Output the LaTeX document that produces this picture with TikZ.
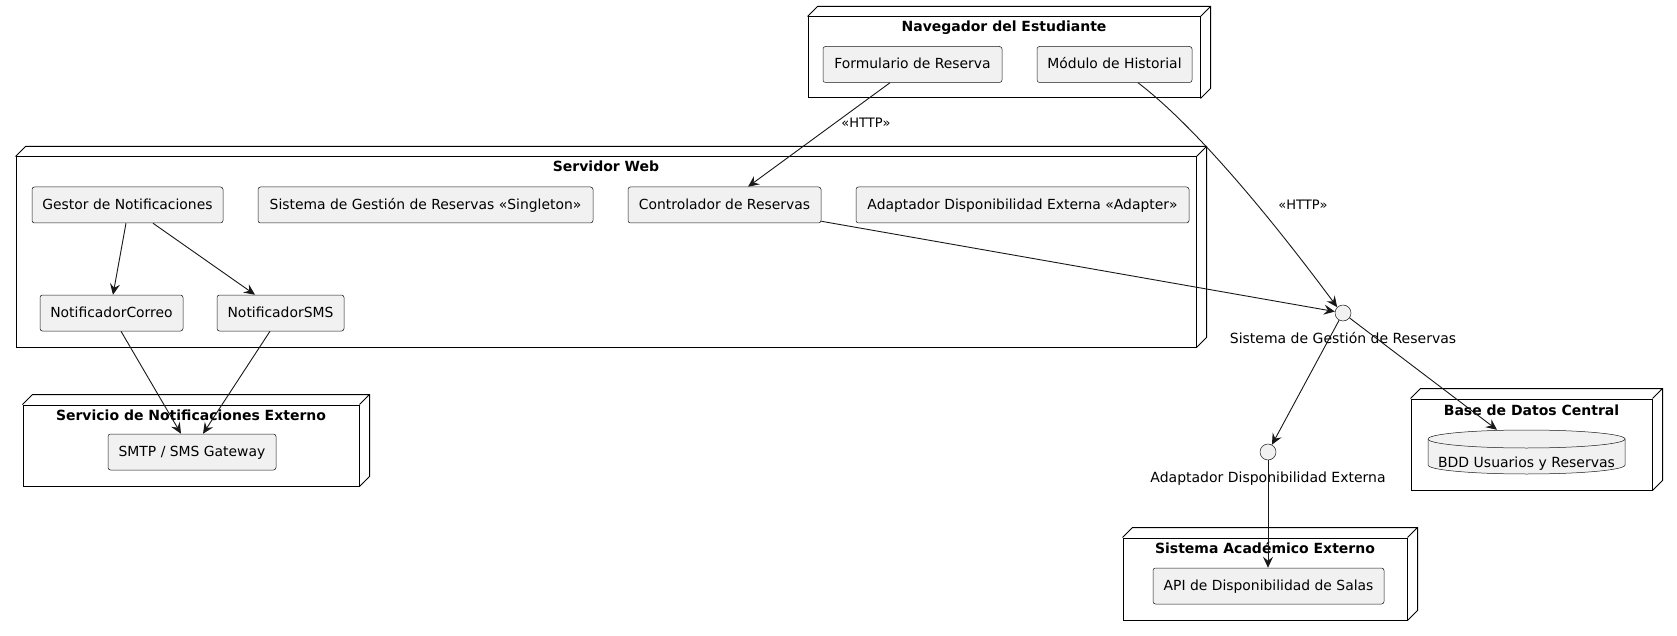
\documentclass[tikz,border=0pt]{standalone}
\usepackage{fontspec}
\setmainfont{DejaVu Sans}
\usetikzlibrary{arrows.meta,calc}
\definecolor{compfill}{HTML}{F1F1F1}
\definecolor{lncol}{HTML}{181818}
\newcommand\threedbox[1]{\draw[line width=1pt, line join=miter] (#1.north west) -- ++(10,-10) -- ($(#1.north east)+(10,-10)$) -- ($(#1.south east)+(10,-10)$) -- (#1.south east) (#1.north east) -- ++(10,-10);}
\begin{document}
\begin{tikzpicture}[x=1pt,y=-1pt,
 comp/.style={draw=lncol, fill=compfill, line width=0.5pt, rounded corners=2.5pt, minimum height=36pt, inner sep=0pt, text height=10.5pt, text depth=2pt, font=\fontsize{13.9}{16}\selectfont},
 frame/.style={draw=black, line width=1pt, inner sep=0pt},
 ttl/.style={font=\bfseries\fontsize{14}{16}\selectfont, inner sep=0pt, anchor=base},
 conn/.style={draw=lncol, line width=0.9pt, -{Stealth[length=11pt,width=10pt,inset=4pt]}},
 iface/.style={circle, draw=lncol, fill=compfill, line width=0.5pt, minimum size=16pt, inner sep=0pt},
 lbl/.style={font=\fontsize{14}{16}\selectfont, inner sep=0pt, anchor=base},
 elbl/.style={font=\fontsize{13}{15}\selectfont, inner sep=0pt, anchor=base}]
\useasboundingbox[fill=white] (0,0) rectangle (1677,636);

% frames
\node[frame, minimum width=392pt, minimum height=81pt] (nav) at (1004,57.5) {};
\threedbox{nav}
\node[frame, minimum width=1180pt, minimum height=190pt] (srv) at (606,252) {};
\threedbox{srv}
\node[frame, minimum width=336pt, minimum height=81pt] (notif) at (191,445.5) {};
\threedbox{notif}
\node[frame, minimum width=241pt, minimum height=91pt] (dbn) at (1531.5,444.5) {};
\threedbox{dbn}
\node[frame, minimum width=284pt, minimum height=82pt] (acad) at (1265,579) {};
\threedbox{acad}

% titles
\node[ttl] (navt) at (1004,32) {Navegador del Estudiante};
\node[ttl] (srvt) at (606,172) {Servidor Web};
\node[ttl] (notift) at (191,420.5) {Servicio de Notificaciones Externo};
\node[ttl] (dbnt) at (1531.5,415) {Base de Datos Central};
\node[ttl] (acadt) at (1265,553.5) {Sistema Académico Externo};

% components
\node[comp, minimum width=179pt] (form) at (912.5,64.5) {Formulario de Reserva};
\node[comp, minimum width=155pt] (mod) at (1114.5,64.5) {Módulo de Historial};
\node[comp, minimum width=191pt] (gestor) at (127.5,205) {Gestor de Notificaciones};
\node[comp, minimum width=335pt] (single) at (425.5,205) {Sistema de Gestión de Reservas «Singleton»};
\node[comp, minimum width=193pt] (ctrl) at (724.5,205) {Controlador de Reservas};
\node[comp, minimum width=333pt] (adapt) at (1022.5,205) {Adaptador Disponibilidad Externa «Adapter»};
\node[comp, minimum width=143pt] (correo) at (111.5,313) {NotificadorCorreo};
\node[comp, minimum width=127pt] (sms) at (280.5,313) {NotificadorSMS};
\node[comp, minimum width=168pt] (smtp) at (192,452) {SMTP / SMS Gateway};
\node[comp, minimum width=231pt] (api) at (1268.5,586) {API de Disponibilidad de Salas};

% database cylinder
\filldraw[draw=lncol, fill=compfill, line width=0.5pt] (1428,439) -- (1428,465) arc[start angle=180, end angle=0, x radius=98.5, y radius=9] -- (1625,439) arc[start angle=0, end angle=-180, x radius=98.5, y radius=9] -- cycle;
\draw[lncol, line width=0.5pt] (1428,439) arc[start angle=180, end angle=0, x radius=98.5, y radius=9];
\node[minimum width=197pt, minimum height=44pt, inner sep=0pt] (db) at (1526.5,452) {};
\node[lbl] (dbl) at (1526.5,467) {BDD Usuarios y Reservas};

% interfaces
\node[iface] (sys) at (1343,313) {};
\node[lbl] (sysl) at (1343,343) {Sistema de Gestión de Reservas};
\node[iface] (adp) at (1268,452) {};
\node[lbl] (adpl) at (1268,482) {Adaptador Disponibilidad Externa};

% connectors
\draw[conn] ([xshift=-22.5pt]form.south) -- ([xshift=23.5pt]ctrl.north);
\node[elbl] (http1) at (866,128) {«HTTP»};
\draw[conn] ([xshift=23.5pt]mod.south) .. controls (1200,130) and (1280,230) .. (sys.north west);
\node[elbl] (http2) at (1303,210) {«HTTP»};
\draw[conn] ([yshift=2pt]ctrl.south east) -- (sys);
\draw[conn] (sys) -- ([xshift=-29.5pt]db.north);
\draw[conn] (sys) -- (adp);
\draw[conn] (adp) -- (adp |- api.north);
\draw[conn] ([xshift=-1.5pt]gestor.south) -- ([xshift=1.5pt]correo.north);
\draw[conn] ([xshift=25.5pt]gestor.south) -- ([xshift=-25.5pt]sms.north);
\draw[conn] ([xshift=9.5pt]correo.south) -- ([xshift=-11pt]smtp.north);
\draw[conn] ([xshift=-10.5pt]sms.south) -- ([xshift=11pt]smtp.north);
\end{tikzpicture}
\end{document}
